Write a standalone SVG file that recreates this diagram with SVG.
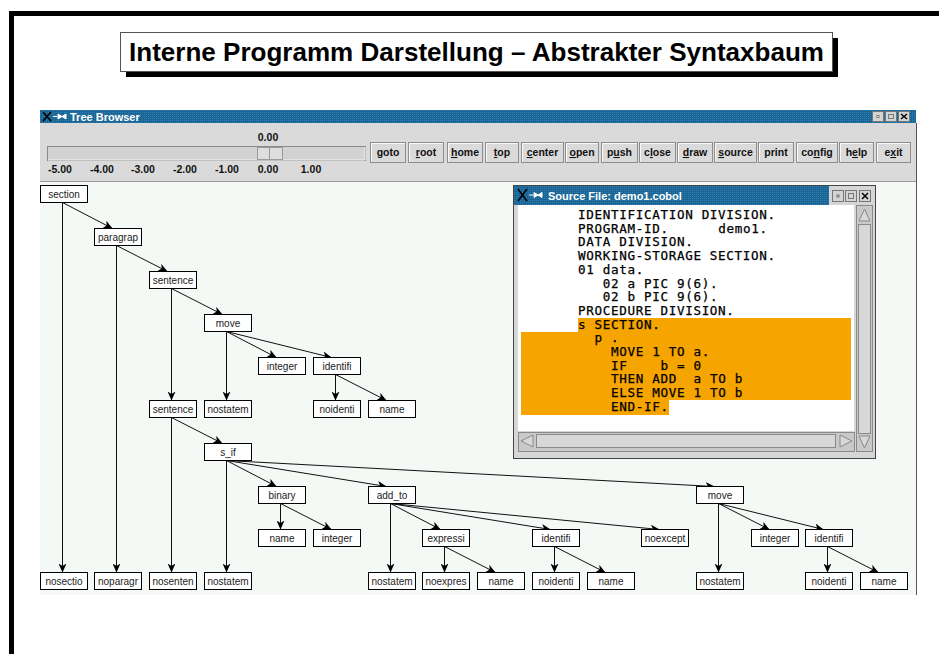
<svg xmlns="http://www.w3.org/2000/svg" width="939" height="654" viewBox="0 0 939 654">
<defs>
<marker id="ah" markerWidth="10" markerHeight="8" refX="9" refY="4" orient="auto" markerUnits="userSpaceOnUse"><path d="M0,0 L9,4 L0,8 L2.5,4 z" fill="#000"/></marker>
<pattern id="tb" width="2" height="2" patternUnits="userSpaceOnUse"><rect width="2" height="2" fill="#1a6593"/><rect width="1" height="1" fill="#2e7db0"/></pattern>
</defs>
<style>
.node rect{fill:#fff;stroke:#000;stroke-width:1}
.node text{font-family:"Liberation Sans",Arial,sans-serif;font-size:10px;text-anchor:middle;fill:#222}
.edges path{stroke:#111;stroke-width:1;fill:none;marker-end:url(#ah)}
.btn rect{fill:#dadada;stroke:#8e8e8e;stroke-width:1}
.btn path{stroke:#fafafa;fill:none;stroke-width:1}
.btn text,.lbl{font-family:"Liberation Sans",Arial,sans-serif;font-size:10.5px;font-weight:bold;text-anchor:middle;fill:#111}
.code{font-family:"DejaVu Sans Mono","Liberation Mono",monospace;font-size:12.6px;letter-spacing:0.66px;fill:#000;stroke:#000;stroke-width:0.25}
.wt{font-family:"Liberation Sans",Arial,sans-serif;font-size:11px;font-weight:bold;fill:#fff}
.wbtn rect{fill:#d4d4d4;stroke:#777;stroke-width:1}
.sb{fill:#d8d8d8;stroke:#8a8a8a;stroke-width:1}
</style>
<rect width="939" height="654" fill="#fff"/>
<!-- slide frame -->
<rect x="9" y="11" width="930" height="5" fill="#000"/>
<rect x="9" y="11" width="5" height="643" fill="#000"/>
<!-- title -->
<g id="title">
<rect x="126" y="38" width="712" height="39" fill="#000"/>
<rect x="120.5" y="32.5" width="712" height="39" fill="#fff" stroke="#555"/>
<text x="129" y="61" font-family="Liberation Sans,Arial,sans-serif" font-size="26" font-weight="bold" fill="#000" textLength="695" lengthAdjust="spacingAndGlyphs">Interne Programm Darstellung – Abstrakter Syntaxbaum</text>
</g>
<!-- Tree Browser window -->
<g id="tree-browser">
<rect x="40" y="110" width="876" height="13" fill="url(#tb)"/>
<path d="M43,112 L51,121 M51,112 L43,121" stroke="#000" stroke-width="1.6"/>
<path d="M53,116.5 H57 M58,114 L62,116.5 L58,119 z M66,114 L62,116.5 L66,119 z" stroke="#fff" fill="#fff" stroke-width="1"/>
<text class="wt" x="70" y="120.5" font-size="10.5">Tree Browser</text>
<g class="wbtn">
<rect x="872.5" y="111.5" width="11" height="10"/><rect x="877" y="115.5" width="2" height="2" fill="#000" stroke="none"/>
<rect x="885.5" y="111.5" width="11" height="10"/><rect x="888.5" y="114.5" width="5" height="4" fill="none" stroke="#000" stroke-width="1.4"/>
<rect x="898.5" y="111.5" width="11" height="10"/><path d="M901,114 L907,119 M907,114 L901,119" stroke="#000" stroke-width="1.5"/>
</g>
<rect x="40" y="123" width="876" height="59" fill="#dadada"/>
<line x1="40" y1="181.5" x2="916" y2="181.5" stroke="#9a9a9a"/>
<rect x="40" y="182" width="876" height="413" fill="#f4f9f6"/>
<line x1="916.5" y1="123" x2="916.5" y2="595" stroke="#555"/>
<!-- slider -->
<text class="lbl" x="268" y="141">0.00</text>
<rect x="47.5" y="146.5" width="318" height="14" fill="#d2d2d2" stroke="#8a8a8a"/>
<path d="M48,160 H365 V147" stroke="#f5f5f5" fill="none"/>
<rect x="257.5" y="147.5" width="25" height="12" fill="#dedede" stroke="#9a9a9a"/>
<line x1="269.5" y1="148" x2="269.5" y2="159" stroke="#9a9a9a"/>
<text class="lbl" x="60" y="173">-5.00</text>
<text class="lbl" x="102" y="173">-4.00</text>
<text class="lbl" x="143" y="173">-3.00</text>
<text class="lbl" x="185" y="173">-2.00</text>
<text class="lbl" x="227" y="173">-1.00</text>
<text class="lbl" x="268" y="173">0.00</text>
<text class="lbl" x="311" y="173">1.00</text>
<!-- buttons -->
<g id="btn-goto" class="btn"><rect x="370.5" y="142.5" width="35" height="20"/><path d="M371.5,161.5 V143.5 H404.5"/><text x="388" y="156">goto</text></g>
<g id="btn-root" class="btn"><rect x="408.5" y="142.5" width="35" height="20"/><path d="M409.5,161.5 V143.5 H442.5"/><text x="426" y="156"><tspan style="text-decoration:underline">r</tspan>oot</text></g>
<g id="btn-home" class="btn"><rect x="447.5" y="142.5" width="35" height="20"/><path d="M448.5,161.5 V143.5 H481.5"/><text x="465" y="156"><tspan style="text-decoration:underline">h</tspan>ome</text></g>
<g id="btn-top" class="btn"><rect x="485.5" y="142.5" width="33" height="20"/><path d="M486.5,161.5 V143.5 H517.5"/><text x="502" y="156"><tspan style="text-decoration:underline">t</tspan>op</text></g>
<g id="btn-center" class="btn"><rect x="521.5" y="142.5" width="42" height="20"/><path d="M522.5,161.5 V143.5 H562.5"/><text x="542.5" y="156"><tspan style="text-decoration:underline">c</tspan>enter</text></g>
<g id="btn-open" class="btn"><rect x="565.5" y="142.5" width="33" height="20"/><path d="M566.5,161.5 V143.5 H597.5"/><text x="582" y="156"><tspan style="text-decoration:underline">o</tspan>pen</text></g>
<g id="btn-push" class="btn"><rect x="601.5" y="142.5" width="36" height="20"/><path d="M602.5,161.5 V143.5 H636.5"/><text x="619.5" y="156">p<tspan style="text-decoration:underline">u</tspan>sh</text></g>
<g id="btn-close" class="btn"><rect x="639.5" y="142.5" width="36" height="20"/><path d="M640.5,161.5 V143.5 H674.5"/><text x="657.5" y="156">c<tspan style="text-decoration:underline">l</tspan>ose</text></g>
<g id="btn-draw" class="btn"><rect x="677.5" y="142.5" width="35" height="20"/><path d="M678.5,161.5 V143.5 H711.5"/><text x="695" y="156"><tspan style="text-decoration:underline">d</tspan>raw</text></g>
<g id="btn-source" class="btn"><rect x="714.5" y="142.5" width="42" height="20"/><path d="M715.5,161.5 V143.5 H755.5"/><text x="735.5" y="156"><tspan style="text-decoration:underline">s</tspan>ource</text></g>
<g id="btn-print" class="btn"><rect x="758.5" y="142.5" width="35" height="20"/><path d="M759.5,161.5 V143.5 H792.5"/><text x="776" y="156">print</text></g>
<g id="btn-config" class="btn"><rect x="796.5" y="142.5" width="41" height="20"/><path d="M797.5,161.5 V143.5 H836.5"/><text x="817" y="156">co<tspan style="text-decoration:underline">n</tspan>fig</text></g>
<g id="btn-help" class="btn"><rect x="839.5" y="142.5" width="34" height="20"/><path d="M840.5,161.5 V143.5 H872.5"/><text x="856.5" y="156">h<tspan style="text-decoration:underline">e</tspan>lp</text></g>
<g id="btn-exit" class="btn"><rect x="876.5" y="142.5" width="34" height="20"/><path d="M877.5,161.5 V143.5 H909.5"/><text x="893.5" y="156">e<tspan style="text-decoration:underline">x</tspan>it</text></g>
</g>
<!-- connectors -->
<g id="connectors" class="edges">
<path d="M62.5,202.5 L112.5,228.5"/>
<path d="M62.5,202.5 V572.5"/>
<path d="M116.5,245.5 L167.5,271.5"/>
<path d="M116.5,245.5 V572.5"/>
<path d="M171.5,288.5 L222.5,314.5"/>
<path d="M171.5,288.5 V400.5"/>
<path d="M226.5,331.5 V400.5"/>
<path d="M226.5,331.5 L276.5,357.5"/>
<path d="M226.5,331.5 L331.5,357.5"/>
<path d="M335.5,374.5 V400.5"/>
<path d="M335.5,374.5 L386.5,400.5"/>
<path d="M171.5,417.5 L222.5,443.5"/>
<path d="M171.5,417.5 V572.5"/>
<path d="M226.5,460.5 V572.5"/>
<path d="M226.5,460.5 L276.5,486.5"/>
<path d="M226.5,460.5 L386.5,486.5"/>
<path d="M226.5,460.5 L714.5,486.5"/>
<path d="M280.5,503.5 V529.5"/>
<path d="M280.5,503.5 L331.5,529.5"/>
<path d="M390.5,503.5 V572.5"/>
<path d="M390.5,503.5 L440.5,529.5"/>
<path d="M390.5,503.5 L550.5,529.5"/>
<path d="M390.5,503.5 L659.5,529.5"/>
<path d="M444.5,546.5 V572.5"/>
<path d="M444.5,546.5 L495.5,572.5"/>
<path d="M554.5,546.5 V572.5"/>
<path d="M554.5,546.5 L605.5,572.5"/>
<path d="M718.5,503.5 V572.5"/>
<path d="M718.5,503.5 L769.5,529.5"/>
<path d="M718.5,503.5 L823.5,529.5"/>
<path d="M827.5,546.5 V572.5"/>
<path d="M827.5,546.5 L878.5,572.5"/>
</g>
<!-- nodes -->
<g id="n-section" class="node"><rect x="40.5" y="185.5" width="47" height="17"/><text x="64" y="197.5">section</text></g>
<g id="n-paragrap" class="node"><rect x="94.5" y="228.5" width="47" height="17"/><text x="118" y="240.5">paragrap</text></g>
<g id="n-sentence1" class="node"><rect x="149.5" y="271.5" width="47" height="17"/><text x="173" y="283.5">sentence</text></g>
<g id="n-move1" class="node"><rect x="204.5" y="314.5" width="47" height="17"/><text x="228" y="326.5">move</text></g>
<g id="n-integer1" class="node"><rect x="258.5" y="357.5" width="47" height="17"/><text x="282" y="369.5">integer</text></g>
<g id="n-identifi1" class="node"><rect x="313.5" y="357.5" width="47" height="17"/><text x="337" y="369.5">identifi</text></g>
<g id="n-sentence2" class="node"><rect x="149.5" y="400.5" width="47" height="17"/><text x="173" y="412.5">sentence</text></g>
<g id="n-nostatem1" class="node"><rect x="204.5" y="400.5" width="47" height="17"/><text x="228" y="412.5">nostatem</text></g>
<g id="n-noidenti1" class="node"><rect x="313.5" y="400.5" width="47" height="17"/><text x="337" y="412.5">noidenti</text></g>
<g id="n-name1" class="node"><rect x="368.5" y="400.5" width="47" height="17"/><text x="392" y="412.5">name</text></g>
<g id="n-s_if" class="node"><rect x="204.5" y="443.5" width="47" height="17"/><text x="228" y="455.5">s_if</text></g>
<g id="n-binary" class="node"><rect x="258.5" y="486.5" width="47" height="17"/><text x="282" y="498.5">binary</text></g>
<g id="n-add_to" class="node"><rect x="368.5" y="486.5" width="47" height="17"/><text x="392" y="498.5">add_to</text></g>
<g id="n-move2" class="node"><rect x="696.5" y="486.5" width="47" height="17"/><text x="720" y="498.5">move</text></g>
<g id="n-name2" class="node"><rect x="258.5" y="529.5" width="47" height="17"/><text x="282" y="541.5">name</text></g>
<g id="n-integer2" class="node"><rect x="313.5" y="529.5" width="47" height="17"/><text x="337" y="541.5">integer</text></g>
<g id="n-expressi" class="node"><rect x="422.5" y="529.5" width="47" height="17"/><text x="446" y="541.5">expressi</text></g>
<g id="n-identifi2" class="node"><rect x="532.5" y="529.5" width="47" height="17"/><text x="556" y="541.5">identifi</text></g>
<g id="n-noexcept" class="node"><rect x="641.5" y="529.5" width="47" height="17"/><text x="665" y="541.5">noexcept</text></g>
<g id="n-integer3" class="node"><rect x="751.5" y="529.5" width="47" height="17"/><text x="775" y="541.5">integer</text></g>
<g id="n-identifi3" class="node"><rect x="805.5" y="529.5" width="47" height="17"/><text x="829" y="541.5">identifi</text></g>
<g id="n-nosectio" class="node"><rect x="40.5" y="572.5" width="47" height="17"/><text x="64" y="584.5">nosectio</text></g>
<g id="n-noparagr" class="node"><rect x="94.5" y="572.5" width="47" height="17"/><text x="118" y="584.5">noparagr</text></g>
<g id="n-nosenten" class="node"><rect x="149.5" y="572.5" width="47" height="17"/><text x="173" y="584.5">nosenten</text></g>
<g id="n-nostatem2" class="node"><rect x="204.5" y="572.5" width="47" height="17"/><text x="228" y="584.5">nostatem</text></g>
<g id="n-nostatem3" class="node"><rect x="368.5" y="572.5" width="47" height="17"/><text x="392" y="584.5">nostatem</text></g>
<g id="n-noexpres" class="node"><rect x="422.5" y="572.5" width="47" height="17"/><text x="446" y="584.5">noexpres</text></g>
<g id="n-name3" class="node"><rect x="477.5" y="572.5" width="47" height="17"/><text x="501" y="584.5">name</text></g>
<g id="n-noidenti2" class="node"><rect x="532.5" y="572.5" width="47" height="17"/><text x="556" y="584.5">noidenti</text></g>
<g id="n-name4" class="node"><rect x="587.5" y="572.5" width="47" height="17"/><text x="611" y="584.5">name</text></g>
<g id="n-nostatem4" class="node"><rect x="696.5" y="572.5" width="47" height="17"/><text x="720" y="584.5">nostatem</text></g>
<g id="n-noidenti3" class="node"><rect x="805.5" y="572.5" width="47" height="17"/><text x="829" y="584.5">noidenti</text></g>
<g id="n-name5" class="node"><rect x="860.5" y="572.5" width="47" height="17"/><text x="884" y="584.5">name</text></g>
<!-- Source window -->
<g id="source-window">
<rect x="513.5" y="185.5" width="362" height="273" fill="#d6d6d6" stroke="#444"/>
<rect x="514" y="186" width="315" height="19" fill="url(#tb)"/>
<path d="M518,189 L527,201 M527,189 L518,201" stroke="#000" stroke-width="1.6"/>
<path d="M529,195 H533 M534,192.5 L538,195 L534,197.5 z M542,192.5 L538,195 L542,197.5 z" stroke="#fff" fill="#fff"/>
<text class="wt" x="548" y="199.5">Source File: demo1.cobol</text>
<g class="wbtn">
<rect x="832.5" y="190.5" width="11" height="11"/><rect x="837" y="195" width="2" height="2" fill="#000" stroke="none"/>
<rect x="845.5" y="190.5" width="11" height="11"/><rect x="848.5" y="193.5" width="5" height="5" fill="none" stroke="#000" stroke-width="1.4"/>
<rect x="859.5" y="190.5" width="11" height="11"/><path d="M862,193 L868,199 M868,193 L862,199" stroke="#000" stroke-width="1.5"/>
</g>
<rect x="518" y="205" width="336" height="226" fill="#fff"/>
<path d="M578,318 H851 V400 H669 V415 H521 V332 H578 Z" fill="#f6a400"/>
<text class="code" x="578" y="219">IDENTIFICATION DIVISION.</text>
<text class="code" x="578" y="232.7">PROGRAM-ID.</text>
<text class="code" x="718.3" y="232.7">demo1.</text>
<text class="code" x="578" y="246.4">DATA DIVISION.</text>
<text class="code" x="578" y="260.1">WORKING-STORAGE SECTION.</text>
<text class="code" x="578" y="273.8">01 data.</text>
<text class="code" x="602.8" y="287.5">02 a PIC 9(6).</text>
<text class="code" x="602.8" y="301.2">02 b PIC 9(6).</text>
<text class="code" x="578" y="314.9">PROCEDURE DIVISION.</text>
<text class="code" x="578" y="328.6">s SECTION.</text>
<text class="code" x="594.5" y="342.3">p .</text>
<text class="code" x="611" y="356">MOVE 1 TO a.</text>
<text class="code" x="611" y="369.7">IF</text>
<text class="code" x="660.5" y="369.7">b = 0</text>
<text class="code" x="611" y="383.4">THEN ADD</text>
<text class="code" x="693.5" y="383.4">a TO b</text>
<text class="code" x="611" y="397.1">ELSE MOVE 1 TO b</text>
<text class="code" x="611" y="410.8">END-IF.</text>
<!-- vertical scrollbar -->
<rect x="856.5" y="205.5" width="16" height="246" fill="#c9c9c9" stroke="#8a8a8a"/>
<rect class="sb" x="858.5" y="224.5" width="12" height="209"/>
<polygon points="864.5,209 870,221 859,221" fill="#d8d8d8" stroke="#8a8a8a"/>
<polygon points="864.5,448 870,436 859,436" fill="#d8d8d8" stroke="#8a8a8a"/>
<!-- horizontal scrollbar -->
<rect x="518.5" y="432.5" width="336" height="19" fill="#c9c9c9" stroke="#8a8a8a"/>
<rect class="sb" x="536.5" y="434.5" width="299" height="13"/>
<polygon points="521,441 533,435 533,447" fill="#d8d8d8" stroke="#8a8a8a"/>
<polygon points="852,441 840,435 840,447" fill="#d8d8d8" stroke="#8a8a8a"/>
</g>
</svg>
